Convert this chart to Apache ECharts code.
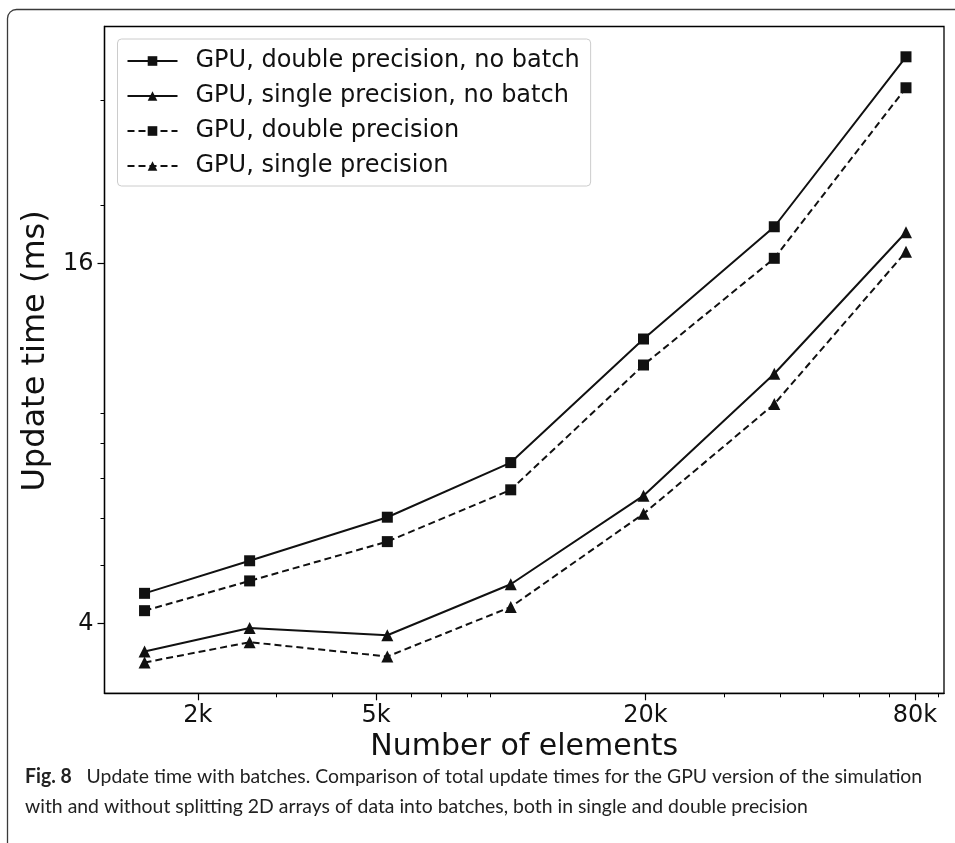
<!DOCTYPE html>
<html>
<head>
<meta charset="utf-8">
<script src="https://cdn.jsdelivr.net/npm/echarts@6.0.0/dist/echarts.min.js"></script>
<style>
  html, body { margin: 0; padding: 0; background: #fff; }
  #chart { width: 955px; height: 843px; }
</style>
</head>
<body>
<div id="chart"></div>
<script>
// ---- data ----
const elements = [1520, 2610, 5300, 10000, 19800, 38800, 76400];
const doubleNoBatch = [4.49, 5.09, 6.02, 7.43, 11.96, 18.43, 35.47];
const singleNoBatch = [3.59, 3.93, 3.82, 4.65, 6.54, 10.46, 18.04];
const doubleBatch = [4.20, 4.71, 5.48, 6.69, 10.82, 16.32, 31.48];
const singleBatch = [3.44, 3.72, 3.52, 4.26, 6.10, 9.31, 16.74];

const seriesNames = [
  'GPU, double precision, no batch',
  'GPU, single precision, no batch',
  'GPU, double precision',
  'GPU, single precision'
];

const xMajorTicks = [2000, 5000, 20000, 80000];
const xTickLabels = ['2k', '5k', '20k', '80k'];
const xMinorTicks = [3000, 4000, 6000, 7000, 8000, 9000, 30000, 40000, 50000, 60000, 70000, 90000];
const yMajorTicks = [4, 16];
const yTickLabels = ['4', '16'];
const yMinorTicks = [5, 6, 7, 8, 9, 20, 30];

const xRange = [1237, 92900];
const yRange = [3.055, 39.86];

function pairs(ys) { return elements.map((x, i) => [x, ys[i]]); }

const INK = '#111';
const FONT = 'DejaVu Sans';

function mkSeries(name, ys, symbol, dashed) {
  return {
    name: name,
    type: 'line',
    data: pairs(ys),
    xAxisIndex: 0,
    yAxisIndex: 0,
    symbol: symbol,
    symbolSize: symbol === 'rect' ? 11 : 12,
    showSymbol: true,
    color: INK,
    itemStyle: { color: INK, borderWidth: 0 },
    lineStyle: { color: INK, width: 2, type: dashed ? [7, 4] : 'solid' },
    emphasis: { disabled: true },
    z: 3
  };
}

const chart = echarts.init(document.getElementById('chart'), null, { renderer: 'canvas' });

const option = {
  animation: false,
  backgroundColor: '#fff',
  textStyle: { fontFamily: FONT },
  grid: {
    left: 104.5, right: 11, top: 26.5, bottom: 149.7,
    show: true, borderColor: '#000', borderWidth: 1.3, backgroundColor: 'transparent',
    containLabel: false, outerBoundsMode: 'none'
  },
  legend: {
    left: 117.5, top: 39,
    orient: 'vertical',
    itemWidth: 50, itemHeight: 12,
    itemGap: 9,
    padding: [9, 11, 7, 9],
    backgroundColor: 'rgba(255,255,255,0.8)',
    borderColor: '#cccccc', borderWidth: 1, borderRadius: 4,
    textStyle: { fontFamily: FONT, fontSize: 24, color: INK, lineHeight: 26, padding: [0, 0, 0, 13] },
    data: seriesNames,
    selectedMode: false
  },
  xAxis: [
    {
      type: 'log', logBase: 10, min: xRange[0], max: xRange[1], position: 'bottom',
      name: 'Number of elements', nameLocation: 'middle', nameGap: 33,
      nameTextStyle: { fontFamily: FONT, fontSize: 30, color: INK },
      axisLine: { show: true, lineStyle: { color: '#000', width: 1.3 } },
      axisTick: { show: true, inside: false, length: 7, lineStyle: { color: '#000', width: 1.2 }, customValues: xMajorTicks },
      axisLabel: {
        show: true, customValues: xMajorTicks, margin: 10, fontSize: 24, color: INK, fontFamily: FONT,
        formatter: function (v) { const i = xMajorTicks.indexOf(Math.round(v)); return i >= 0 ? xTickLabels[i] : ''; }
      },
      splitLine: { show: false }, minorTick: { show: false }
    },
    {
      type: 'log', logBase: 10, min: xRange[0], max: xRange[1], position: 'bottom',
      axisLine: { show: false },
      axisTick: { show: true, inside: false, length: 4, lineStyle: { color: '#000', width: 1 }, customValues: xMinorTicks },
      axisLabel: { show: false },
      splitLine: { show: false }
    }
  ],
  yAxis: [
    {
      type: 'log', logBase: 10, min: yRange[0], max: yRange[1], position: 'left',
      name: 'Update time (ms)', nameLocation: 'middle', nameGap: 44,
      nameTextStyle: { fontFamily: FONT, fontSize: 32, color: INK, padding: [0, 0, 0, 18] },
      axisLine: { show: true, lineStyle: { color: '#000', width: 1.3 } },
      axisTick: { show: true, inside: false, length: 7, lineStyle: { color: '#000', width: 1.2 }, customValues: yMajorTicks },
      axisLabel: {
        show: true, customValues: yMajorTicks, margin: 11, fontSize: 24, color: INK, fontFamily: FONT,
        formatter: function (v) { const i = yMajorTicks.indexOf(Math.round(v)); return i >= 0 ? yTickLabels[i] : ''; }
      },
      splitLine: { show: false }, minorTick: { show: false }
    },
    {
      type: 'log', logBase: 10, min: yRange[0], max: yRange[1], position: 'left',
      axisLine: { show: false },
      axisTick: { show: true, inside: false, length: 4, lineStyle: { color: '#000', width: 1 }, customValues: yMinorTicks },
      axisLabel: { show: false },
      splitLine: { show: false }
    }
  ],
  series: [
    mkSeries(seriesNames[0], doubleNoBatch, 'rect', false),
    mkSeries(seriesNames[1], singleNoBatch, 'triangle', false),
    mkSeries(seriesNames[2], doubleBatch, 'rect', true),
    mkSeries(seriesNames[3], singleBatch, 'triangle', true)
  ],
  graphic: [
    {
      type: 'rect', silent: true, z: -1,
      shape: { x: 7.5, y: 9.5, width: 1000, height: 900, r: 9 },
      style: { fill: 'none', stroke: '#3a3a3a', lineWidth: 1.3 }
    },
    {
      type: 'text', silent: true,
      x: 25, y: 762, scaleX: 0.97,
      style: {
        text: '{b|Fig. 8}   Update time with batches. Comparison of total update times for the GPU version of the simulation\nwith and without splitting 2D arrays of data into batches, both in single and double precision',
        fontFamily: 'Lato', fontSize: 20, lineHeight: 30, fill: '#222',
        verticalAlign: 'top', align: 'left',
        rich: { b: { fontFamily: 'Lato', fontWeight: 'bold', fontSize: 20, lineHeight: 30, fill: '#222' } }
      }
    }
  ]
};

chart.setOption(option);
</script>
</body>
</html>
